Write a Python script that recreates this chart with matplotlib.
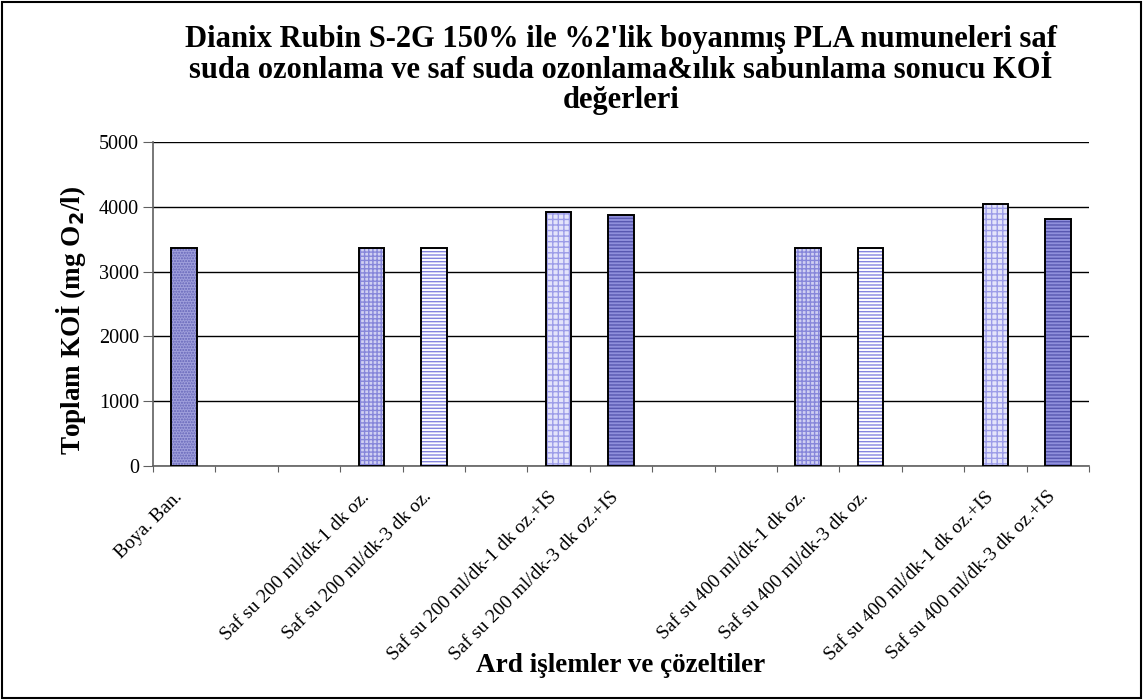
import matplotlib
matplotlib.use("Agg")
import matplotlib.pyplot as plt
from matplotlib.patches import Rectangle

plt.rcParams['font.family'] = ['Liberation Serif', 'DejaVu Serif']
plt.rcParams['hatch.linewidth'] = 1.0

title = ("Dianix Rubin S-2G 150% ile %2'lik boyanmış PLA numuneleri saf\n"
         "suda ozonlama ve saf suda ozonlama&ılık sabunlama sonucu KOİ\n"
         "değerleri")
categories = ["Boya. Ban.", "", "",
              "Saf su 200 ml/dk-1 dk oz.", "Saf su 200 ml/dk-3 dk oz.", "",
              "Saf su 200 ml/dk-1 dk oz.+IS", "Saf su 200 ml/dk-3 dk oz.+IS", "", "",
              "Saf su 400 ml/dk-1 dk oz.", "Saf su 400 ml/dk-3 dk oz.", "",
              "Saf su 400 ml/dk-1 dk oz.+IS", "Saf su 400 ml/dk-3 dk oz.+IS"]
values = [3360, None, None,
          3370, 3370, None,
          3920, 3880, None, None,
          3370, 3360, None,
          4040, 3810]
# fill style per bar: (face colour, hatch colour, hatch)
styles = {
    "dots":    ("#a0a0dc", "#6464b8", "......"),
    "checker": ("#d0d0f2", "#8686da", "++++"),
    "lines":   ("#ffffff", "#8484e0", "-----"),
    "check_l": ("#e4e4fa", "#9c9ce8", "+++"),
    "dark":    ("#9090dc", "#5858b0", "-----"),
}
bar_style = ["dots", None, None, "checker", "lines", None,
             "check_l", "dark", None, None, "checker", "lines", None,
             "check_l", "dark"]

fig = plt.figure(figsize=(11.43, 7.0), dpi=100)
fig.patches.append(Rectangle((0.002, 0.003), 0.996, 0.994, transform=fig.transFigure,
                             fill=False, edgecolor='black', linewidth=1.5))
ax = fig.add_axes([0.1339, 0.3343, 0.8189, 0.4628])

x = list(range(len(categories)))
w = 0.41
for xi, v, s in zip(x, values, bar_style):
    if v is None:
        continue
    fc, hc, h = styles[s]
    ax.bar(xi, v, width=w, color=fc, edgecolor=hc, hatch=h, linewidth=0, zorder=3)
    ax.bar(xi, v, width=w, fill=False, edgecolor='black', linewidth=1.4, zorder=4)

ax.set_xlim(-0.5, len(categories) - 0.5)
ax.set_ylim(0, 5000)
ax.set_yticks(range(0, 5001, 1000))
ax.yaxis.grid(True, color='black', linewidth=1.0, zorder=0)
ax.set_axisbelow(True)

# category boundaries carry the visible ticks; labels sit on invisible ticks
ax.set_xticks([i + 0.5 for i in range(-1, len(categories))], minor=False)
ax.set_xticklabels([])
ax.set_xticks([xi - 0.17 for xi in x], minor=True)
ax.set_xticklabels(categories, minor=True, rotation=45, ha='right',
                   rotation_mode='anchor', fontsize=14)
ax.tick_params(axis='x', which='minor', length=0, pad=16)
ax.tick_params(axis='x', which='major', length=4, color='#606060', direction='out')
ax.tick_params(axis='y', length=7, color='#606060', labelsize=14.5, pad=3)

for side in ('top', 'right'):
    ax.spines[side].set_visible(False)
for side in ('left', 'bottom'):
    ax.spines[side].set_color('#606060')
    ax.spines[side].set_linewidth(1.2)

ax.set_ylabel("Toplam KOİ (mg O$_\\mathbf{2}$/l)", fontsize=19.5, fontweight='bold')
ax.yaxis.set_label_coords(-0.07, 0.45)
fig.text(0.5433, 0.05, "Ard işlemler ve çözeltiler", ha='center', va='center',
         fontsize=19.5, fontweight='bold')
fig.text(0.5433, 0.9, title, ha='center', va='center', fontsize=22,
         fontweight='bold', linespacing=1.05)

fig.savefig("out.png", dpi=100)
